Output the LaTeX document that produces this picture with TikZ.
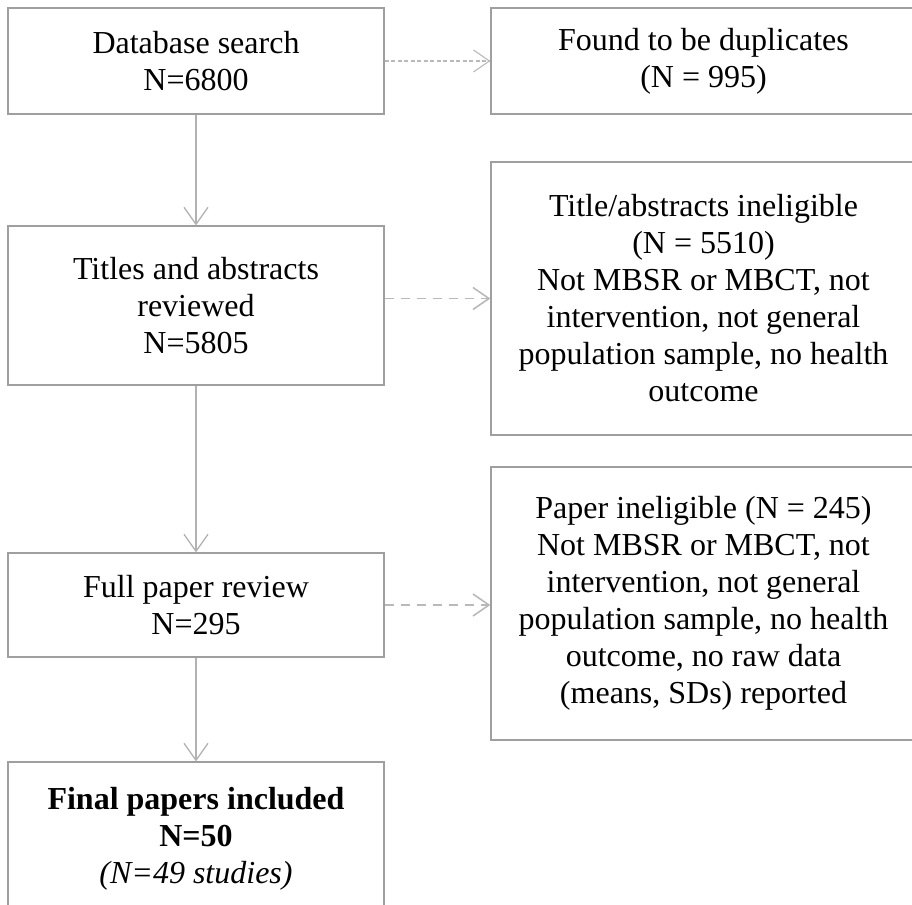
\documentclass[tikz,border=0pt]{standalone}
\usepackage{fontspec}
\setmainfont{Liberation Serif}
\usetikzlibrary{arrows.meta}

\begin{document}
\begin{tikzpicture}[
  x=1pt,
  y=-1pt,
  font=\fontsize{32}{37}\selectfont,
  stage/.style={
    draw=gray!75,
    line width=1.2pt,
    align=center,
    minimum width=376pt,
    inner sep=0pt
  },
  excluded/.style={
    draw=gray!75,
    line width=1.2pt,
    align=center,
    minimum width=425pt,
    inner sep=0pt
  },
  flow/.style={
    draw=gray!60,
    line width=1.3pt,
    -{Straight Barb[length=17pt,width=24pt,line width=1.3pt]}
  },
  skipfine/.style={
    draw=gray!55,
    line width=1.1pt,
    dash pattern=on 4pt off 2.5pt,
    -{Straight Barb[length=16pt,width=22pt,line width=1.1pt]}
  },
  skipcoarse/.style={
    draw=gray!55,
    line width=1.6pt,
    dash pattern=on 9pt off 7pt,
    -{Straight Barb[length=16pt,width=22pt,line width=1.6pt]}
  }
]
\clip (0,0) rectangle (912,904);

% ---------------------------------------------------------------------------
% Main stages
% ---------------------------------------------------------------------------
\node[stage, minimum height=106pt] (search) at (196,61)
  {Database search\\N=6800};
\node[stage, minimum height=159pt] (titles) at (196,305.5)
  {Titles and abstracts\\reviewed\\N=5805};
\node[stage, minimum height=104pt] (fullrev) at (196,605)
  {Full paper review\\N=295};
\node[stage, minimum height=154pt] (final) at (196,839)
  {\textbf{Final papers included}\\\textbf{N=50}\\\textit{(N=49 studies)}};

% ---------------------------------------------------------------------------
% Exclusions
% ---------------------------------------------------------------------------
\node[excluded, minimum height=106pt] (dupl) at (703.5,61)
  {Found to be duplicates\\(N = 995)};
\node[excluded, minimum height=273pt] (tiinel) at (703.5,298.5)
  {Title/abstracts ineligible\\(N = 5510)\\Not MBSR or MBCT, not\\intervention, not general\\population sample, no health\\outcome};
\node[excluded, minimum height=273pt] (paperinel) at (703.5,603.5)
  {Paper ineligible (N = 245)\\Not MBSR or MBCT, not\\intervention, not general\\population sample, no health\\outcome, no raw data\\(means, SDs) reported};

% Connectors
\draw[flow] (search) -- (titles);
\draw[flow] (titles) -- (fullrev);
\draw[flow] (fullrev) -- (final);
\draw[skipfine] (search) -- (dupl);
\draw[skipcoarse] (titles.east |- tiinel.west) -- (tiinel.west);
\draw[skipcoarse] (fullrev) -- (paperinel.west |- fullrev);
\end{tikzpicture}
\end{document}
